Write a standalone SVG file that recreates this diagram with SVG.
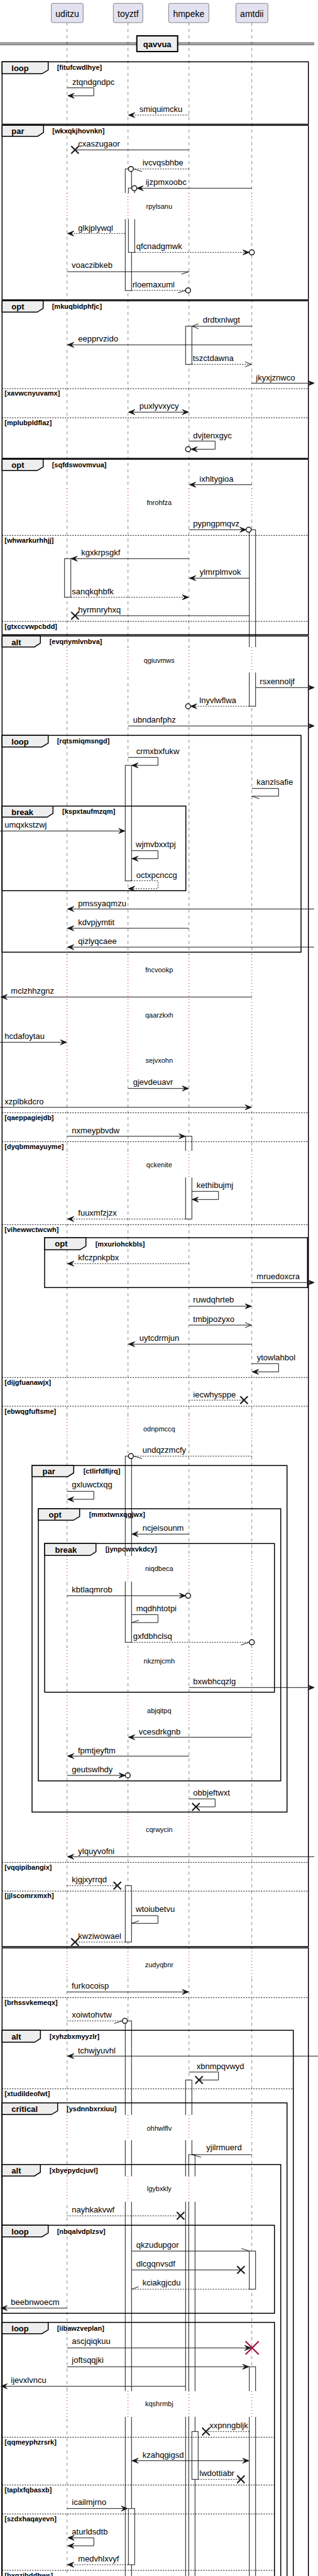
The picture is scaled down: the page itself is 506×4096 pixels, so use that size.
<svg xmlns="http://www.w3.org/2000/svg" width="506" height="4096" viewBox="0 0 506 4096">
<style>
.ll{stroke:#181818;stroke-width:.5;stroke-dasharray:5,5}
.dl{stroke:#A80036;stroke-width:1;stroke-dasharray:1,4}
.m{stroke:#181818;stroke-width:1;fill:none}
.d{stroke-dasharray:2,2}
.act{fill:#fff;stroke:#181818;stroke-width:1}
.fr{fill:none;stroke:#000;stroke-width:1.5}
.tab{fill:#EEEEEE;stroke:#000;stroke-width:1.5}
.sep{stroke:#000;stroke-width:1;stroke-dasharray:2,2}
.x{stroke:#181818;stroke-width:2;fill:none}
.c{fill:#fff;stroke:#181818;stroke-width:1.5}
.cov{fill:#fff;stroke:none}
text{font-family:"Liberation Sans",Arial,sans-serif;fill:#000}
.t{font-size:13px}
.gl{font-size:13px;font-weight:bold}
.gd{font-size:11px;font-weight:bold}
.dt{font-size:11px;text-anchor:middle}
.pn{font-size:14px;text-anchor:middle}
</style>
<defs>
<marker id="af" viewBox="-11 -5 12 10" refX="0" refY="0" markerWidth="12" markerHeight="10" markerUnits="userSpaceOnUse" orient="auto" overflow="visible"><path d="M0,0 L-10,-4 L-6,0 L-10,4 Z" fill="#181818" stroke="#181818" stroke-width="1" stroke-dasharray="none"/></marker>
<marker id="afs" viewBox="-11 -5 12 10" refX="0" refY="0" markerWidth="12" markerHeight="10" markerUnits="userSpaceOnUse" orient="auto-start-reverse" overflow="visible"><path d="M0,0 L-10,-4 L-6,0 L-10,4 Z" fill="#181818" stroke="#181818" stroke-width="1" stroke-dasharray="none"/></marker>
<marker id="ao" viewBox="-11 -5 12 10" refX="0" refY="0" markerWidth="12" markerHeight="10" markerUnits="userSpaceOnUse" orient="auto" overflow="visible"><path d="M-10,-4 L0,0 L-10,4" fill="none" stroke="#181818" stroke-width="1" stroke-dasharray="none"/></marker>
</defs>
<rect x="0" y="0" width="506" height="4096" fill="#fff"/>

<g id="lifelines">
<line class="ll" x1="106.7" y1="36" x2="106.7" y2="4096"/>
<line class="ll" x1="203.7" y1="36" x2="203.7" y2="4096"/>
<line class="ll" x1="300.7" y1="36" x2="300.7" y2="4096"/>
<line class="ll" x1="400.7" y1="36" x2="400.7" y2="4096"/>
</g>

<g id="activations">
<rect class="act" x="199.3" y="268.7" width="10" height="193.3"/>
<rect class="act" x="204.3" y="299" width="10" height="102.3"/>
<rect class="act" x="295.3" y="518.7" width="10" height="60.6"/>
<rect class="act" x="396.7" y="842.3" width="10" height="280.7"/>
<rect class="act" x="102.7" y="888.3" width="10" height="61.4"/>
<rect class="act" x="199.3" y="1217" width="10" height="183.7"/>
<rect class="act" x="295.3" y="1806.7" width="10" height="131.6"/>
<rect class="act" x="199.3" y="2315.3" width="10" height="296"/>
<rect class="act" x="199.3" y="2998.3" width="10" height="89.7"/>
<rect class="act" x="199.3" y="3213.3" width="10" height="900"/>
<rect class="act" x="295.3" y="3307.3" width="10" height="800"/>
<rect class="act" x="300.3" y="3426" width="10" height="700"/>
<rect class="act" x="396.7" y="3579.3" width="10" height="60.7"/>
<rect class="act" x="396.7" y="3763.3" width="10" height="400"/>
<rect class="act" x="305.3" y="3866.3" width="10" height="76"/>
<rect class="act" x="204.3" y="3988.7" width="10" height="89.3"/>
</g>

<g id="delays">
<g><rect class="cov" x="97" y="307" width="316" height="41.5"/><line class="dl" x1="106.7" y1="307" x2="106.7" y2="348.5"/><line class="dl" x1="203.7" y1="307" x2="203.7" y2="348.5"/><line class="dl" x1="300.7" y1="307" x2="300.7" y2="348.5"/><line class="dl" x1="400.7" y1="307" x2="400.7" y2="348.5"/><text class="dt" x="253.3" y="332.3">rpylsanu</text></g>
<g><rect class="cov" x="97" y="777" width="316" height="42"/><line class="dl" x1="106.7" y1="777" x2="106.7" y2="819"/><line class="dl" x1="203.7" y1="777" x2="203.7" y2="819"/><line class="dl" x1="300.7" y1="777" x2="300.7" y2="819"/><line class="dl" x1="400.7" y1="777" x2="400.7" y2="819"/><text class="dt" x="253.3" y="803.3">fnrohfza</text></g>
<g><rect class="cov" x="97" y="1029" width="316" height="40.3"/><line class="dl" x1="106.7" y1="1029" x2="106.7" y2="1069.3"/><line class="dl" x1="203.7" y1="1029" x2="203.7" y2="1069.3"/><line class="dl" x1="300.7" y1="1029" x2="300.7" y2="1069.3"/><line class="dl" x1="400.7" y1="1029" x2="400.7" y2="1069.3"/><text class="dt" x="253.3" y="1054.3">qgiuvmws</text></g>
<g><rect class="cov" x="97" y="1518" width="316" height="190"/><line class="dl" x1="106.7" y1="1518" x2="106.7" y2="1708"/><line class="dl" x1="203.7" y1="1518" x2="203.7" y2="1708"/><line class="dl" x1="300.7" y1="1518" x2="300.7" y2="1708"/><line class="dl" x1="400.7" y1="1518" x2="400.7" y2="1708"/><text class="dt" x="253.3" y="1545.7">fncvookp</text><text class="dt" x="253.3" y="1618">qaarzkxh</text><text class="dt" x="253.3" y="1689.7">sejvxohn</text></g>
<g><rect class="cov" x="97" y="1830" width="316" height="42.3"/><line class="dl" x1="106.7" y1="1830" x2="106.7" y2="1872.3"/><line class="dl" x1="203.7" y1="1830" x2="203.7" y2="1872.3"/><line class="dl" x1="300.7" y1="1830" x2="300.7" y2="1872.3"/><line class="dl" x1="400.7" y1="1830" x2="400.7" y2="1872.3"/><text class="dt" x="253.3" y="1855.7">qckenite</text></g>
<g><rect class="cov" x="97" y="2251" width="316" height="41"/><line class="dl" x1="106.7" y1="2251" x2="106.7" y2="2292"/><line class="dl" x1="203.7" y1="2251" x2="203.7" y2="2292"/><line class="dl" x1="300.7" y1="2251" x2="300.7" y2="2292"/><line class="dl" x1="400.7" y1="2251" x2="400.7" y2="2292"/><text class="dt" x="253.3" y="2276.3">odnpmccq</text></g>
<g><rect class="cov" x="97" y="2474" width="316" height="40.7"/><line class="dl" x1="106.7" y1="2474" x2="106.7" y2="2514.7"/><line class="dl" x1="203.7" y1="2474" x2="203.7" y2="2514.7"/><line class="dl" x1="300.7" y1="2474" x2="300.7" y2="2514.7"/><line class="dl" x1="400.7" y1="2474" x2="400.7" y2="2514.7"/><text class="dt" x="253.3" y="2498.3">niqdbeca</text></g>
<g><rect class="cov" x="97" y="2619" width="316" height="42"/><line class="dl" x1="106.7" y1="2619" x2="106.7" y2="2661"/><line class="dl" x1="203.7" y1="2619" x2="203.7" y2="2661"/><line class="dl" x1="300.7" y1="2619" x2="300.7" y2="2661"/><line class="dl" x1="400.7" y1="2619" x2="400.7" y2="2661"/><text class="dt" x="253.3" y="2644.7">nkzmjcmh</text></g>
<g><rect class="cov" x="97" y="2696" width="316" height="49"/><line class="dl" x1="106.7" y1="2696" x2="106.7" y2="2745"/><line class="dl" x1="203.7" y1="2696" x2="203.7" y2="2745"/><line class="dl" x1="300.7" y1="2696" x2="300.7" y2="2745"/><line class="dl" x1="400.7" y1="2696" x2="400.7" y2="2745"/><text class="dt" x="253.3" y="2724">abjqitpq</text></g>
<g><rect class="cov" x="97" y="2883" width="316" height="46"/><line class="dl" x1="106.7" y1="2883" x2="106.7" y2="2929"/><line class="dl" x1="203.7" y1="2883" x2="203.7" y2="2929"/><line class="dl" x1="300.7" y1="2883" x2="300.7" y2="2929"/><line class="dl" x1="400.7" y1="2883" x2="400.7" y2="2929"/><text class="dt" x="253.3" y="2913.3">cqrwycin</text></g>
<g><rect class="cov" x="97" y="3098" width="316" height="48"/><line class="dl" x1="106.7" y1="3098" x2="106.7" y2="3146"/><line class="dl" x1="203.7" y1="3098" x2="203.7" y2="3146"/><line class="dl" x1="300.7" y1="3098" x2="300.7" y2="3146"/><line class="dl" x1="400.7" y1="3098" x2="400.7" y2="3146"/><text class="dt" x="253.3" y="3128">zudyqbnr</text></g>
<g><rect class="cov" x="97" y="3363" width="316" height="40"/><line class="dl" x1="106.7" y1="3363" x2="106.7" y2="3403"/><line class="dl" x1="203.7" y1="3363" x2="203.7" y2="3403"/><line class="dl" x1="300.7" y1="3363" x2="300.7" y2="3403"/><line class="dl" x1="400.7" y1="3363" x2="400.7" y2="3403"/><text class="dt" x="253.3" y="3388">ohhwlflv</text></g>
<g><rect class="cov" x="97" y="3460.5" width="316" height="40.5"/><line class="dl" x1="106.7" y1="3460.5" x2="106.7" y2="3501"/><line class="dl" x1="203.7" y1="3460.5" x2="203.7" y2="3501"/><line class="dl" x1="300.7" y1="3460.5" x2="300.7" y2="3501"/><line class="dl" x1="400.7" y1="3460.5" x2="400.7" y2="3501"/><text class="dt" x="253.3" y="3484">lgybxkly</text></g>
<g><rect class="cov" x="97" y="3802" width="316" height="41"/><line class="dl" x1="106.7" y1="3802" x2="106.7" y2="3843"/><line class="dl" x1="203.7" y1="3802" x2="203.7" y2="3843"/><line class="dl" x1="300.7" y1="3802" x2="300.7" y2="3843"/><line class="dl" x1="400.7" y1="3802" x2="400.7" y2="3843"/><text class="dt" x="253.3" y="3826">kqshrmbj</text></g>
</g>

<g id="frames">
<g id="g-loop1"><rect class="fr" x="3.3" y="98.3" width="487.4" height="99.2"/><polygon class="tab" points="3.3,98.3 76.7,98.3 76.7,111.3 66.7,117.3 3.3,117.3"/><text class="gl" x="18.3" y="112.7">loop</text><text class="gd" x="90.7" y="111">[fitufcwdlhye]</text></g>
<g id="g-par1"><rect class="fr" x="3.3" y="199.3" width="487.4" height="277.4"/><polygon class="tab" points="3.3,199.3 69.3,199.3 69.3,210.7 60,216.7 3.3,216.7"/><text class="gl" x="18.3" y="212.5">par</text><text class="gd" x="83.3" y="211.5">[wkxqkjhovnkn]</text></g>
<g id="g-opt1"><rect class="fr" x="3.3" y="478.3" width="487.4" height="250.4"/><polygon class="tab" points="3.3,478.3 68.7,478.3 68.7,490.3 59,496.3 3.3,496.3"/><text class="gl" x="18.3" y="492">opt</text><text class="gd" x="82.7" y="491">[mkuqbidphfjc]</text>
<line class="sep" x1="3.3" y1="618" x2="490.7" y2="618"/><text class="gd" x="7.3" y="629.3">[xavwcnyuvamx]</text>
<line class="sep" x1="3.3" y1="664.3" x2="490.7" y2="664.3"/><text class="gd" x="7.3" y="675.5">[mplubpldflaz]</text></g>
<g id="g-opt2"><rect class="fr" x="3.3" y="730.3" width="487.4" height="279"/><polygon class="tab" points="3.3,730.3 68.7,730.3 68.7,742.3 59,748.3 3.3,748.3"/><text class="gl" x="18.3" y="744">opt</text><text class="gd" x="82.7" y="742.7">[sqfdswovmvua]</text>
<line class="sep" x1="3.3" y1="851.3" x2="490.7" y2="851.3"/><text class="gd" x="7.3" y="862.5">[whwarkurhhjj]</text>
<line class="sep" x1="3.3" y1="988" x2="490.7" y2="988"/><text class="gd" x="7.3" y="999.5">[gtxccvwpcbdd]</text></g>
<g id="g-alt1"><rect class="fr" x="3.3" y="1011.3" width="487.4" height="2084"/><polygon class="tab" points="3.3,1011.3 64.3,1011.3 64.3,1022.7 55,1028.7 3.3,1028.7"/><text class="gl" x="18.3" y="1025.5">alt</text><text class="gd" x="78.7" y="1024">[evqnymlvnbva]</text>
<line class="sep" x1="3.3" y1="1769.3" x2="490.7" y2="1769.3"/><text class="gd" x="7.3" y="1780.7">[qaeppagiejdb]</text>
<line class="sep" x1="3.3" y1="1815.3" x2="490.7" y2="1815.3"/><text class="gd" x="7.3" y="1826.7">[dyqbmmayuyme]</text>
<line class="sep" x1="3.3" y1="1947.3" x2="490.7" y2="1947.3"/><text class="gd" x="7.3" y="1958.5">[vihewwctwcwh]</text>
<line class="sep" x1="3.3" y1="2190.3" x2="490.7" y2="2190.3"/><text class="gd" x="7.3" y="2201.5">[dijgfuanawjx]</text>
<line class="sep" x1="3.3" y1="2236" x2="490.7" y2="2236"/><text class="gd" x="7.3" y="2247.5">[ebwqgfuftsme]</text>
<line class="sep" x1="3.3" y1="2961.3" x2="490.7" y2="2961.3"/><text class="gd" x="7.3" y="2972.7">[vqqipibangix]</text>
<line class="sep" x1="3.3" y1="3007" x2="490.7" y2="3007"/><text class="gd" x="7.3" y="3018.3">[jjlscomrxmxh]</text></g>
<g id="g-loop2"><rect class="fr" x="3.3" y="1169.3" width="475.7" height="344.7"/><polygon class="tab" points="3.3,1169.3 76.7,1169.3 76.7,1181.7 66.7,1187.7 3.3,1187.7"/><text class="gl" x="18.3" y="1183.5">loop</text><text class="gd" x="90.7" y="1182">[rqtsmiqmsngd]</text></g>
<g id="g-break1"><rect class="fr" x="3.3" y="1281.7" width="292.4" height="134.6"/><polygon class="tab" points="3.3,1281.7 84.3,1281.7 84.3,1293.3 75,1299.3 3.3,1299.3"/><text class="gl" x="18.3" y="1295.5">break</text><text class="gd" x="99" y="1294">[kspxtaufmzqm]</text></g>
<g id="g-opt3"><rect class="fr" x="71" y="1968" width="418.3" height="79.3"/><polygon class="tab" points="71,1968 136.7,1968 136.7,1981.3 127,1987.3 71,1987.3"/><text class="gl" x="87.3" y="1982">opt</text><text class="gd" x="151.7" y="1981.7">[mxuriohckbls]</text></g>
<g id="g-par2"><rect class="fr" x="51" y="2330.3" width="405.7" height="551"/><polygon class="tab" points="51,2330.3 117.3,2330.3 117.3,2342 107.7,2348 51,2348"/><text class="gl" x="67.5" y="2343.5">par</text><text class="gd" x="132.7" y="2343">[ctlirfdfijrq]</text></g>
<g id="g-opt4"><rect class="fr" x="61" y="2399" width="385.7" height="432.7"/><polygon class="tab" points="61,2399 126.7,2399 126.7,2411.3 116.7,2417.3 61,2417.3"/><text class="gl" x="77.5" y="2413">opt</text><text class="gd" x="141.7" y="2412.3">[mmxtwnxqgjwx]</text></g>
<g id="g-break2"><rect class="fr" x="71" y="2454.3" width="365.7" height="236.4"/><polygon class="tab" points="71,2454.3 152.7,2454.3 152.7,2467.3 143.3,2473.3 71,2473.3"/><text class="gl" x="87.5" y="2469">break</text><text class="gd" x="167.7" y="2467.3">[jynpcwxvkdcy]</text></g>
<g id="g-grp6"><rect class="fr" x="3.3" y="3097.3" width="487.4" height="1020"/>
<line class="sep" x1="3.3" y1="3176.3" x2="490.7" y2="3176.3"/><text class="gd" x="7.3" y="3187.5">[brhssvkemeqx]</text></g>
<g id="g-alt2"><rect class="fr" x="3.3" y="3228.3" width="463.4" height="900"/><polygon class="tab" points="3.3,3228.3 64.3,3228.3 64.3,3241.3 55,3247.3 3.3,3247.3"/><text class="gl" x="18.3" y="3243">alt</text><text class="gd" x="78.7" y="3242">[xyhzbxmyyzlr]</text>
<line class="sep" x1="3.3" y1="3321.3" x2="466.7" y2="3321.3"/><text class="gd" x="7.3" y="3333">[xtudildeofwt]</text></g>
<g id="g-critical"><rect class="fr" x="3.3" y="3343.7" width="453.4" height="800"/><polygon class="tab" points="3.3,3343.7 91.7,3343.7 91.7,3356.3 81.7,3362.3 3.3,3362.3"/><text class="gl" x="18.3" y="3358">critical</text><text class="gd" x="106" y="3357.3">[ysdnnbxrxiuu]</text></g>
<g id="g-alt3"><rect class="fr" x="3.3" y="3441.7" width="443.4" height="700"/><polygon class="tab" points="3.3,3441.7 64.3,3441.7 64.3,3454 55,3460 3.3,3460"/><text class="gl" x="18.3" y="3456">alt</text><text class="gd" x="78.7" y="3455">[xbyepydcjuvl]</text></g>
<g id="g-loop3"><rect class="fr" x="3.3" y="3538.3" width="433.4" height="140"/><polygon class="tab" points="3.3,3538.3 76.7,3538.3 76.7,3550.7 66.7,3556.7 3.3,3556.7"/><text class="gl" x="18.3" y="3552.5">loop</text><text class="gd" x="90.7" y="3551.7">[nbqalvdplzsv]</text></g>
<g id="g-loop4"><rect class="fr" x="3.3" y="3692.7" width="433.4" height="500"/><polygon class="tab" points="3.3,3692.7 76.7,3692.7 76.7,3704.7 66.7,3710.7 3.3,3710.7"/><text class="gl" x="18.3" y="3706.5">loop</text><text class="gd" x="90.7" y="3705.7">[iibawzveplan]</text>
<line class="sep" x1="3.3" y1="3875.3" x2="436.7" y2="3875.3"/><text class="gd" x="7.3" y="3886.5">[qqmeyphzrsrk]</text>
<line class="sep" x1="3.3" y1="3951.3" x2="436.7" y2="3951.3"/><text class="gd" x="7.3" y="3962.7">[taplxfqbasxb]</text>
<line class="sep" x1="3.3" y1="3997.3" x2="436.7" y2="3997.3"/><text class="gd" x="7.3" y="4008.7">[szdxhaqayevn]</text>
<line class="sep" x1="3.3" y1="4087" x2="436.7" y2="4087"/><text class="gd" x="7.3" y="4099">[bxgzibddhws]</text></g>
</g>

<g id="divider">
<line x1="0" y1="68.3" x2="500" y2="68.3" stroke="#000" stroke-width="1"/>
<line x1="0" y1="71" x2="500" y2="71" stroke="#000" stroke-width="1"/>
<rect x="217.7" y="57" width="65" height="25" fill="#EEEEEE" stroke="#000" stroke-width="2"/>
<text class="gl" x="250.2" y="75" text-anchor="middle">qavvua</text>
</g>

<g id="p-uditzu"><rect x="81.7" y="5.3" width="50.6" height="30.7" rx="2.5" fill="#E2E2F0" stroke="#181818" stroke-width=".5"/><text class="pn" x="107" y="26.5">uditzu</text></g>
<g id="p-toyztf"><rect x="180.3" y="5.3" width="47" height="30.7" rx="2.5" fill="#E2E2F0" stroke="#181818" stroke-width=".5"/><text class="pn" x="203.8" y="26.5">toyztf</text></g>
<g id="p-hmpeke"><rect x="268.3" y="5.3" width="64" height="30.7" rx="2.5" fill="#E2E2F0" stroke="#181818" stroke-width=".5"/><text class="pn" x="300.3" y="26.5">hmpeke</text></g>
<g id="p-amtdii"><rect x="375.3" y="5.3" width="51" height="30.7" rx="2.5" fill="#E2E2F0" stroke="#181818" stroke-width=".5"/><text class="pn" x="400.8" y="26.5">amtdii</text></g>

<g id="connectors">
<polyline class="m" points="106.7,139.7 149.3,139.7 149.3,152.3 108,152.3" marker-end="url(#af)"/><text class="t" x="115" y="135">ztqndgndpc</text>
<line class="m d" x1="300.7" y1="183" x2="204.5" y2="183" marker-end="url(#af)"/><text class="t" x="221.7" y="178.3">smiquimcku</text>
<line class="m" x1="300.7" y1="238.3" x2="119.3" y2="238.3"/><path class="x" d="M113.3,232.3 l12,12 m0,-12 l-12,12"/><text class="t" x="124.3" y="233.3">cxaszugaor</text>
<line class="m d" x1="300.7" y1="268.7" x2="212.3" y2="268.7"/><line class="m" x1="212.8" y1="268.7" x2="226" y2="272.7"/><circle class="c" cx="208.3" cy="268.7" r="4"/><text class="t" x="226.7" y="263.3">ivcvqsbhbe</text>
<line class="m" x1="400.7" y1="299.3" x2="218" y2="299.3" marker-end="url(#af)"/><circle class="c" cx="213.7" cy="299.3" r="4"/><text class="t" x="231.7" y="294">ijzpmxoobc</text>
<line class="m d" x1="199.3" y1="371.3" x2="107.5" y2="371.3" marker-end="url(#af)"/><text class="t" x="124.3" y="367">glkjplywql</text>
<line class="m d" x1="214.3" y1="401.3" x2="396.5" y2="401.3" marker-end="url(#af)"/><circle class="c" cx="400.7" cy="401.3" r="4"/><text class="t" x="216.7" y="396">qfcnadgmwk</text>
<line class="m" x1="106.7" y1="432" x2="300.7" y2="432"/><line class="m" x1="300.7" y1="432" x2="288.7" y2="436"/><text class="t" x="114" y="426.3">voaczibkeb</text>
<line class="m d" x1="209.3" y1="461.7" x2="295.3" y2="461.7"/><line class="m" x1="295.3" y1="461.7" x2="283.3" y2="465.7"/><circle class="c" cx="299.3" cy="461.7" r="4"/><text class="t" x="210.7" y="457">rloemaxuml</text>
<line class="m" x1="400.7" y1="518.7" x2="305.8" y2="518.7" marker-end="url(#ao)"/><text class="t" x="322.7" y="513">drdtxnlwgt</text>
<line class="m" x1="400.7" y1="548.3" x2="107.5" y2="548.3" marker-end="url(#af)"/><text class="t" x="124.3" y="543.3">eepprvzido</text>
<line class="m d" x1="305.3" y1="579.3" x2="400" y2="579.3" marker-end="url(#ao)"/><text class="t" x="306.7" y="573.7">tszctdawna</text>
<line class="m" x1="400.7" y1="609.3" x2="500" y2="609.3" marker-end="url(#af)"/><text class="t" x="407.3" y="604.7">jkyxjznwco</text>
<line class="m" x1="204.5" y1="655.3" x2="300" y2="655.3" marker-start="url(#afs)" marker-end="url(#af)"/><text class="t" x="221.7" y="650.3">puxlyvxycy</text>
<polyline class="m" points="300.7,701.3 342.3,701.3 342.3,714.3 304,714.3" marker-end="url(#af)"/><circle class="c" cx="299.3" cy="714.3" r="4"/><text class="t" x="307.3" y="696.7">dvjtenxgyc</text>
<line class="m" x1="400.7" y1="770.7" x2="301.5" y2="770.7" marker-end="url(#af)"/><text class="t" x="317.3" y="765.7">ixhltygioa</text>
<line class="m" x1="300.7" y1="842.3" x2="391.7" y2="842.3" marker-end="url(#af)"/><circle class="c" cx="395.7" cy="842.3" r="4"/><text class="t" x="307.3" y="837.3">pypngpmqvz</text>
<line class="m" x1="300.7" y1="888.3" x2="113" y2="888.3" marker-end="url(#af)"/><text class="t" x="129.3" y="883">kgxkrpsgkf</text>
<line class="m" x1="396.7" y1="919.3" x2="301.5" y2="919.3" marker-end="url(#af)"/><text class="t" x="317.7" y="914">ylmrplmvok</text>
<line class="m d" x1="112.7" y1="949.7" x2="300" y2="949.7" marker-end="url(#af)"/><text class="t" x="114.3" y="944.7">sanqkqhbfk</text>
<line class="m" x1="396.7" y1="979" x2="119.3" y2="979"/><path class="x" d="M113.3,973 l12,12 m0,-12 l-12,12"/><text class="t" x="124.3" y="974">hyrmnryhxq</text>
<line class="m" x1="406.7" y1="1093.3" x2="500" y2="1093.3" marker-end="url(#af)"/><text class="t" x="413.3" y="1088.3">rsxennoljf</text>
<line class="m d" x1="396.7" y1="1123" x2="303.3" y2="1123" marker-end="url(#af)"/><circle class="c" cx="299.3" cy="1123" r="4"/><text class="t" x="317.3" y="1118.3">lnyvlwflwa</text>
<line class="m" x1="203.7" y1="1154.3" x2="500" y2="1154.3" marker-end="url(#af)"/><text class="t" x="211.7" y="1148.7">ubndanfphz</text>
<polyline class="m" points="203.7,1204.3 251.3,1204.3 251.3,1217 209.8,1217" marker-end="url(#af)"/><text class="t" x="216.7" y="1199.3">crmxbxfukw</text>
<polyline class="m" points="400.7,1253.7 443.3,1253.7 443.3,1266 400.7,1266"/><line class="m" x1="400.7" y1="1266" x2="412.7" y2="1270"/><text class="t" x="408.3" y="1247.7">kanzlsafie</text>
<line class="m" x1="0" y1="1321.3" x2="198.8" y2="1321.3" marker-end="url(#af)"/><text class="t" x="7.3" y="1316">umqxkstzwj</text>
<polyline class="m" points="209.3,1352.7 251.3,1352.7 251.3,1365.3 209.8,1365.3" marker-end="url(#af)"/><text class="t" x="216" y="1346.7">wjmvbxxtpj</text>
<polyline class="m d" points="209.3,1400.3 251.3,1400.3 251.3,1413 204.5,1413" marker-end="url(#af)"/><text class="t" x="216.7" y="1395.7">octxpcnccg</text>
<line class="m" x1="500" y1="1445.3" x2="107.5" y2="1445.3" marker-end="url(#af)"/><text class="t" x="124.3" y="1440.7">pmssyaqmzu</text>
<line class="m" x1="300.7" y1="1476" x2="107.5" y2="1476" marker-end="url(#af)"/><text class="t" x="124.3" y="1470.7">kdvpjymtit</text>
<line class="m" x1="500" y1="1506" x2="107.5" y2="1506" marker-end="url(#af)"/><text class="t" x="124.3" y="1501.3">qizlyqcaee</text>
<line class="m" x1="400.7" y1="1585.3" x2="1.5" y2="1585.3" marker-end="url(#af)"/><text class="t" x="17.3" y="1580.3">mclzhhzgnz</text>
<line class="m" x1="0" y1="1657.3" x2="106" y2="1657.3" marker-end="url(#af)"/><text class="t" x="7.3" y="1652.3">hcdafoytau</text>
<line class="m" x1="203.7" y1="1730.7" x2="300" y2="1730.7" marker-end="url(#af)"/><text class="t" x="211.7" y="1725">gjevdeuavr</text>
<line class="m" x1="0" y1="1760.7" x2="400" y2="1760.7" marker-end="url(#af)"/><text class="t" x="7.3" y="1755.7">xzplbkdcro</text>
<line class="m" x1="106.7" y1="1806.7" x2="294.8" y2="1806.7" marker-end="url(#af)"/><text class="t" x="114.3" y="1801.7">nxmeypbvdw</text>
<polyline class="m" points="305.3,1894.3 347.7,1894.3 347.7,1907.3 305.8,1907.3" marker-end="url(#af)"/><text class="t" x="312.7" y="1889.3">kethibujmj</text>
<line class="m d" x1="295.3" y1="1938.3" x2="107.5" y2="1938.3" marker-end="url(#af)"/><text class="t" x="124.3" y="1932.7">fuuxmfzjzx</text>
<line class="m d" x1="300.7" y1="2009.3" x2="107.5" y2="2009.3" marker-end="url(#af)"/><text class="t" x="124.3" y="2004.3">kfczpnkpbx</text>
<line class="m" x1="400.7" y1="2039.3" x2="500" y2="2039.3" marker-end="url(#af)"/><text class="t" x="408.3" y="2034">mruedoxcra</text>
<line class="m" x1="300.7" y1="2077" x2="400" y2="2077" marker-end="url(#af)"/><text class="t" x="307.3" y="2071.3">ruwdqhrteb</text>
<line class="m" x1="300.7" y1="2107" x2="400" y2="2107" marker-end="url(#ao)"/><text class="t" x="307.3" y="2102">tmbjpozyxo</text>
<line class="m" x1="400.7" y1="2137.3" x2="204.5" y2="2137.3" marker-end="url(#af)"/><text class="t" x="221.7" y="2132">uytcdrmjun</text>
<polyline class="m" points="400.7,2168.3 443.3,2168.3 443.3,2181.3 401.5,2181.3" marker-end="url(#af)"/><text class="t" x="408.7" y="2162.7">ytowlahbol</text>
<line class="m d" x1="300.7" y1="2226.3" x2="388.3" y2="2226.3"/><path class="x" d="M382.3,2220.3 l12,12 m0,-12 l-12,12"/><text class="t" x="307.3" y="2222">iecwhysppe</text>
<line class="m d" x1="400.7" y1="2315.3" x2="212.3" y2="2315.3"/><line class="m" x1="212.8" y1="2315.3" x2="226" y2="2319.3"/><circle class="c" cx="208.3" cy="2315.3" r="4"/><text class="t" x="226.7" y="2310.3">undqzzmcfy</text>
<polyline class="m" points="106.7,2371.3 149.3,2371.3 149.3,2384 107.5,2384" marker-end="url(#af)"/><text class="t" x="114.3" y="2365.3">gxluwctxqg</text>
<line class="m" x1="300.7" y1="2439.3" x2="209.8" y2="2439.3" marker-end="url(#af)"/><text class="t" x="226.7" y="2434">ncjeisounm</text>
<line class="m" x1="106.7" y1="2537.3" x2="295.3" y2="2537.3" marker-end="url(#af)"/><circle class="c" cx="299.3" cy="2537.3" r="4"/><text class="t" x="114.3" y="2532.3">kbtlaqmrob</text>
<polyline class="m" points="209.3,2567.3 251.3,2567.3 251.3,2580 209.3,2580"/><line class="m" x1="209.3" y1="2580" x2="221" y2="2576.3"/><text class="t" x="216.7" y="2562.3">mqdhhtotpi</text>
<line class="m d" x1="209.3" y1="2611.3" x2="396.7" y2="2611.3"/><line class="m" x1="396.7" y1="2611.3" x2="383.3" y2="2615.7"/><circle class="c" cx="400.7" cy="2611.3" r="4"/><text class="t" x="211.7" y="2605.7">gxfdbhclsq</text>
<line class="m" x1="300.7" y1="2683.3" x2="500" y2="2683.3" marker-end="url(#af)"/><text class="t" x="307.3" y="2678">bxwbhcqzlg</text>
<line class="m" x1="400.7" y1="2762.3" x2="204.5" y2="2762.3" marker-end="url(#af)"/><text class="t" x="220.7" y="2757.7">vcesdrkgnb</text>
<line class="m" x1="300.7" y1="2792.3" x2="107.5" y2="2792.3" marker-end="url(#af)"/><text class="t" x="124" y="2787.7">fpmtjeyftm</text>
<line class="m" x1="106.7" y1="2823" x2="199.3" y2="2823" marker-end="url(#af)"/><circle class="c" cx="203.3" cy="2823" r="4"/><text class="t" x="114.3" y="2817.7">geutswlhdy</text>
<polyline class="m" points="300.7,2860.3 342.3,2860.3 342.3,2873 311.7,2873"/><path class="x" d="M305.7,2867 l12,12 m0,-12 l-12,12"/><text class="t" x="307.3" y="2855.3">obbjeftwxt</text>
<line class="m" x1="500" y1="2952.3" x2="107.5" y2="2952.3" marker-end="url(#af)"/><text class="t" x="124.3" y="2947.7">ylquyvofni</text>
<line class="m d" x1="106.7" y1="2998.3" x2="186.7" y2="2998.3"/><path class="x" d="M180.7,2992.3 l12,12 m0,-12 l-12,12"/><text class="t" x="114.3" y="2993.3">kjgjxyrrqd</text>
<polyline class="m" points="209.3,3046 251.3,3046 251.3,3058.3 209.3,3058.3"/><line class="m" x1="209.3" y1="3058.3" x2="221" y2="3054.3"/><text class="t" x="216" y="3040">wtoiubetvu</text>
<line class="m d" x1="199.3" y1="3088" x2="119.3" y2="3088"/><path class="x" d="M113.3,3082 l12,12 m0,-12 l-12,12"/><text class="t" x="124.3" y="3083">kwziwowael</text>
<line class="m" x1="106.7" y1="3167.3" x2="300" y2="3167.3" marker-end="url(#af)"/><text class="t" x="114" y="3162.3">furkocoisp</text>
<line class="m d" x1="106.7" y1="3213.3" x2="194.7" y2="3213.3"/><line class="m" x1="194.7" y1="3213.3" x2="181.7" y2="3217.3"/><circle class="c" cx="198.7" cy="3213.3" r="4"/><text class="t" x="114.3" y="3208">xoiwtohvtw</text>
<line class="m" x1="506" y1="3269.3" x2="107.5" y2="3269.3" marker-end="url(#af)"/><text class="t" x="124" y="3264.7">tchwjyuvhl</text>
<polyline class="m" points="300.7,3294.7 347.7,3294.7 347.7,3307.3 316.7,3307.3"/><path class="x" d="M310.7,3301.3 l12,12 m0,-12 l-12,12"/><text class="t" x="312.7" y="3289.7">xbnmpqvwyd</text>
<line class="m" x1="400.7" y1="3426" x2="305.3" y2="3426"/><line class="m" x1="305.3" y1="3426" x2="320" y2="3430"/><text class="t" x="328.3" y="3418.7">yjilrmuerd</text>
<line class="m d" x1="106.7" y1="3523.3" x2="287.3" y2="3523.3"/><path class="x" d="M281.3,3517.3 l12,12 m0,-12 l-12,12"/><text class="t" x="114.3" y="3518.3">nayhkakvwf</text>
<line class="m" x1="209.3" y1="3579.3" x2="396.7" y2="3579.3"/><line class="m" x1="396.7" y1="3579.3" x2="384.3" y2="3575.3"/><text class="t" x="216.7" y="3574">qkzudupgor</text>
<line class="m" x1="209.3" y1="3609.3" x2="383.3" y2="3609.3"/><path class="x" d="M377.3,3603.3 l12,12 m0,-12 l-12,12"/><text class="t" x="216.7" y="3604">dlcgqnvsdf</text>
<line class="m d" x1="396.7" y1="3640" x2="209.3" y2="3640"/><line class="m" x1="209.3" y1="3640" x2="220.7" y2="3636"/><text class="t" x="226.7" y="3634.3">kciakgjcdu</text>
<line class="m" x1="106.7" y1="3670" x2="1.5" y2="3670" marker-end="url(#af)"/><text class="t" x="17.3" y="3665">beebnwoecm</text>
<line class="m" x1="106.7" y1="3733.3" x2="399.3" y2="3733.3" marker-end="url(#af)"/><path d="M390.7,3722.8 l21,21 m0,-21 l-21,21" stroke="#A80036" stroke-width="2" fill="none"/><text class="t" x="114.3" y="3727.3">ascjqiqkuu</text>
<line class="m" x1="106.7" y1="3763.3" x2="396" y2="3763.3" marker-end="url(#af)"/><text class="t" x="114.3" y="3757.3">joftsqqjki</text>
<line class="m" x1="295.3" y1="3794.3" x2="1.5" y2="3794.3" marker-end="url(#af)"/><text class="t" x="17.3" y="3788.7">ijevxlvncu</text>
<line class="m d" x1="396.7" y1="3866.3" x2="327.7" y2="3866.3"/><path class="x" d="M321.7,3860.3 l12,12 m0,-12 l-12,12"/><text class="t" x="333.3" y="3861">xxpnngbljk</text>
<line class="m" x1="210" y1="3912.7" x2="396" y2="3912.7" marker-start="url(#afs)" marker-end="url(#af)"/><text class="t" x="226.7" y="3907.7">kzahqgigsd</text>
<line class="m d" x1="315.3" y1="3942.3" x2="383.3" y2="3942.3"/><path class="x" d="M377.3,3936.3 l12,12 m0,-12 l-12,12"/><text class="t" x="317.3" y="3937">lwdottiabr</text>
<line class="m" x1="106.7" y1="3988.7" x2="203" y2="3988.7" marker-end="url(#af)"/><text class="t" x="114.3" y="3983">icailmjrno</text>
<polyline class="m" points="108,4035.3 149.3,4035.3 149.3,4048 108,4048" marker-start="url(#afs)" marker-end="url(#af)"/><text class="t" x="114.3" y="4029.7">aturldsdtb</text>
<line class="m d" x1="204.3" y1="4078" x2="107.5" y2="4078" marker-end="url(#af)"/><text class="t" x="124.3" y="4073">medvhlxvyf</text>
</g>
</svg>
